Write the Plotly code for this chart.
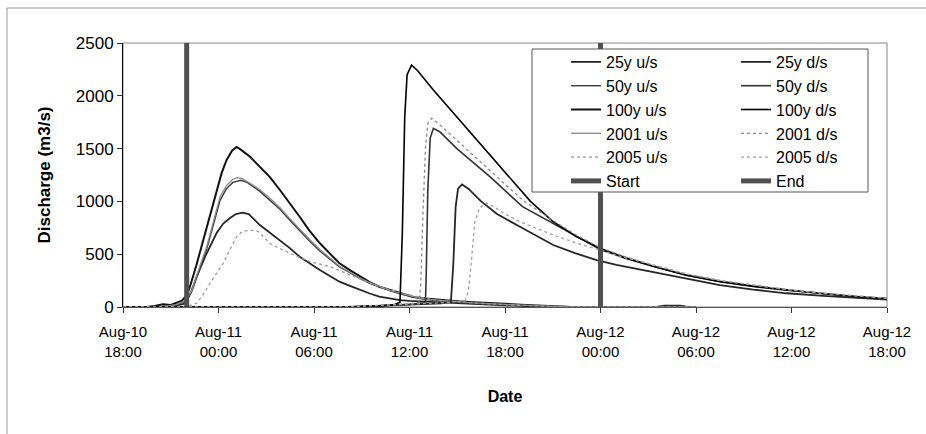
import pandas as pd
import plotly.graph_objects as go

BASE = "2007-08-10 18:00"

# ---- data: hours since Aug-10 18:00 and discharge (m3/s) ----
us25_t = [0, 2.5, 3.3, 3.8, 4.0, 4.3, 4.63, 5.2, 5.88, 6.3, 6.72, 7.1, 7.5, 7.9, 8.6, 9.23, 9.86, 10.5, 11.1, 11.75,
          12.37, 13.0, 13.6, 14.3, 14.9, 15.5, 16.1, 16.8, 17.4, 18, 19, 20, 21, 22, 23, 24, 25, 26, 27, 33.5, 34, 35, 35.5, 36]
us25_q = [0, 3, 12, 30, 55, 150, 287, 490, 700, 790, 843, 880, 893, 880, 776, 705, 634, 555, 476, 410,
          350, 293, 240, 198, 161, 128, 98, 80, 66, 58, 50, 42, 35, 28, 22, 16, 10, 5, 0, 0, 12, 12, 0, 0]

us50_t = [0, 2.5, 3.3, 3.8, 4.0, 4.3, 4.7, 5.26, 5.7, 6.1, 6.5, 6.9, 7.4, 7.8, 8.6, 9.23, 9.86, 10.5, 11.1, 11.75,
          12.37, 13.0, 13.6, 14.3, 14.9, 15.5, 16.1, 16.8, 17.4, 18, 18.5, 19, 20, 21, 22, 23, 24, 25, 26, 27, 28, 36]
us50_q = [0, 5, 18, 45, 75, 140, 310, 550, 790, 1010, 1120, 1180, 1200, 1180, 1095, 1010, 925, 820, 720, 620,
          530, 450, 380, 320, 268, 225, 188, 152, 125, 100, 85, 70, 55, 45, 36, 28, 20, 14, 8, 3, 0, 0]

us100_t = [0, 1.5, 2.0, 2.5, 3.0, 3.3, 3.7, 4.0, 4.2, 4.6, 5.04, 5.5, 5.88, 6.2, 6.51, 6.85, 7.14, 7.4, 8.0, 8.6,
           9.23, 9.86, 10.5, 11.1, 11.7, 12.37, 13.0, 13.6, 14.3, 14.9, 15.5, 16.1, 16.7, 17.2, 17.7, 18.2, 19, 20,
           21, 22, 23, 24, 25, 26, 27, 28, 30, 36]
us100_q = [0, 0, 10, 25, 20, 35, 60, 110, 190, 390, 634, 880, 1108, 1270, 1392, 1480, 1515, 1490, 1420, 1330,
           1230, 1108, 980, 855, 725, 603, 505, 414, 345, 287, 235, 192, 165, 145, 120, 98, 80, 65,
           55, 45, 35, 28, 22, 15, 8, 3, 0, 0]

us2001_t = [0, 2.5, 3.3, 3.8, 4.0, 4.3, 4.7, 5.26, 5.7, 6.1, 6.5, 6.9, 7.2, 7.5, 8.0, 8.6, 9.23, 9.86, 10.5, 11.1,
            11.75, 12.37, 13.0, 13.6, 14.3, 14.9, 15.5, 16.1, 16.8, 17.4, 18, 18.5, 19, 20, 21, 22, 23, 24, 25, 26,
            27, 28, 36]
us2001_q = [0, 5, 20, 50, 80, 150, 330, 571, 820, 1045, 1150, 1210, 1225, 1215, 1170, 1110, 1030, 940, 835, 735,
            635, 545, 460, 385, 325, 272, 230, 192, 155, 130, 105, 90, 75, 60, 50, 40, 30, 25, 18, 10,
            5, 0, 0]

us2005_t = [0, 3.5, 4.0, 4.63, 5.0, 5.46, 5.9, 6.3, 6.7, 7.14, 7.5, 8.0, 8.5, 9.23, 9.9, 10.5, 11.1, 11.75, 12.4,
            13.0, 13.6, 14.26, 14.9, 15.5, 16.1, 16.8, 17.4, 18, 18.6, 19, 20, 21, 22, 23, 24, 25, 26, 27, 28, 36]
us2005_q = [0, 0, 5, 35, 110, 224, 320, 414, 540, 666, 715, 729, 715, 603, 550, 508, 470, 429, 405,
            382, 345, 303, 265, 224, 190, 161, 135, 114, 95, 80, 60, 48, 38, 30, 22, 15, 8, 3, 0, 0]

ds25_t = [0, 14, 16, 18, 20, 20.6, 20.75, 20.9, 21.05, 21.3, 21.7, 22.5, 23.5, 24.94, 26, 27.03, 28.4, 29.76, 31,
          33.3, 35.4, 37.5, 39.6, 41.7, 44, 46, 47.8, 48]
ds25_q = [0, 0, 10, 20, 35, 50, 400, 950, 1120, 1160, 1120, 1000, 880, 760, 670, 587, 510, 445, 400,
          334, 270, 208, 165, 130, 105, 88, 73, 70]

ds50_t = [0, 14, 16, 18, 19.0, 19.05, 19.15, 19.3, 19.5, 19.9, 20.96, 23.05, 25.1, 27, 28.5, 30, 31.5, 33.3, 35.4,
          37.5, 39.6, 41.7, 44, 46, 48]
ds50_q = [0, 0, 12, 25, 40, 300, 1100, 1600, 1692, 1660, 1502, 1234, 950, 790, 665, 545, 465, 385, 300,
          243, 198, 160, 125, 100, 78]

ds100_t = [0, 14, 16, 17, 17.4, 17.55, 17.7, 17.85, 18.13, 18.5, 19.5, 20.96, 22.6, 24.1, 25.6, 27, 28.5, 30, 31.5,
           33.3, 35.4, 37.5, 39.6, 41.7, 44, 46, 47.8, 48]
ds100_q = [0, 0, 10, 20, 45, 700, 1800, 2200, 2290, 2240, 2055, 1802, 1518, 1260, 1000, 810, 665, 555, 470,
           385, 300, 240, 195, 160, 125, 100, 82, 80]

ds2001_t = [0, 14, 16, 18, 18.6, 18.7, 18.85, 19.0, 19.15, 19.4, 19.8, 20.96, 23.05, 25.1, 27, 28.5, 30, 31.5,
            33.3, 35.4, 37.5, 39.6, 41.7, 44, 46, 48]
ds2001_q = [0, 0, 15, 30, 45, 200, 900, 1500, 1740, 1787, 1740, 1581, 1297, 1013, 820, 680, 560, 480,
            395, 310, 250, 205, 165, 130, 105, 82]

ds2005_t = [0, 14, 16, 18, 20, 21.5, 21.7, 21.9, 22.1, 22.4, 22.84, 23.3, 24, 24.94, 26, 27.03, 28.4, 29.76, 31,
            33.3, 35.4, 37.5, 39.6, 41.7, 44, 46, 48]
ds2005_q = [0, 0, 15, 30, 40, 60, 150, 450, 800, 940, 985, 950, 880, 808, 745, 682, 610, 545, 490,
            400, 315, 252, 205, 165, 130, 105, 82]

start_time = "2007-08-10 22:00"
end_time = "2007-08-12 00:00"
marker_q = [0, 2500]

x_range = ["2007-08-10 18:00", "2007-08-12 18:00"]
tick_times = ["2007-08-10 18:00", "2007-08-11 00:00", "2007-08-11 06:00", "2007-08-11 12:00",
              "2007-08-11 18:00", "2007-08-12 00:00", "2007-08-12 06:00", "2007-08-12 12:00",
              "2007-08-12 18:00"]
tick_labels = ["Aug-10<br>18:00", "Aug-11<br>00:00", "Aug-11<br>06:00", "Aug-11<br>12:00",
               "Aug-11<br>18:00", "Aug-12<br>00:00", "Aug-12<br>06:00", "Aug-12<br>12:00",
               "Aug-12<br>18:00"]
y_ticks = [0, 500, 1000, 1500, 2000, 2500]

FONT = "Liberation Sans, Arial, sans-serif"
base = pd.Timestamp(BASE)


def to_time(hours):
    return base + pd.to_timedelta(hours, unit="h")


series = [
    ("25y u/s", us25_t, us25_q, "#262626", 1.8, "solid", "legend"),
    ("50y u/s", us50_t, us50_q, "#3a3a3a", 1.4, "solid", "legend"),
    ("100y u/s", us100_t, us100_q, "#111111", 2.0, "solid", "legend"),
    ("2001 u/s", us2001_t, us2001_q, "#8a8a8a", 1.3, "solid", "legend"),
    ("2005 u/s", us2005_t, us2005_q, "#9a9a9a", 1.3, "dot", "legend"),
    ("25y d/s", ds25_t, ds25_q, "#262626", 1.8, "solid", "legend2"),
    ("50y d/s", ds50_t, ds50_q, "#333333", 1.6, "solid", "legend2"),
    ("100y d/s", ds100_t, ds100_q, "#000000", 1.6, "solid", "legend2"),
    ("2001 d/s", ds2001_t, ds2001_q, "#8a8a8a", 1.3, "dot", "legend2"),
    ("2005 d/s", ds2005_t, ds2005_q, "#a0a0a0", 1.3, "dot", "legend2"),
]

fig = go.Figure()
for name, t, q, col, w, dash, lg in series:
    fig.add_trace(go.Scatter(x=to_time(t), y=q, mode="lines", name=name, legend=lg,
                             line=dict(color=col, width=w, dash=dash)))

fig.add_trace(go.Scatter(x=[start_time, start_time], y=marker_q, mode="lines", name="Start",
                         legend="legend", line=dict(color="#505050", width=5)))
fig.add_trace(go.Scatter(x=[end_time, end_time], y=marker_q, mode="lines", name="End",
                         legend="legend2", line=dict(color="#505050", width=5)))

# pixel geometry of plot area
L, R, T, B = 123, 887, 43, 307
W, H = 926, 434


def px(x):
    return (x - L) / (R - L)


def py(y):
    return (B - y) / (B - T)


fig.update_layout(
    width=W, height=H,
    margin=dict(l=L, r=W - R, t=T, b=H - B, pad=0),
    paper_bgcolor="white", plot_bgcolor="white",
    font=dict(family=FONT, size=16, color="black"),
    showlegend=True,
    legend=dict(x=px(566), y=py(45), xanchor="left", yanchor="top", bgcolor="rgba(0,0,0,0)",
                borderwidth=0, font=dict(size=16), tracegroupgap=0),
    legend2=dict(x=px(736), y=py(45), xanchor="left", yanchor="top", bgcolor="rgba(0,0,0,0)",
                 borderwidth=0, font=dict(size=16), tracegroupgap=0),
    xaxis=dict(type="date", range=x_range, tickvals=tick_times, ticktext=tick_labels,
               ticks="outside", ticklen=5, tickcolor="#333", showgrid=False, zeroline=False,
               showline=True, linecolor="#555", linewidth=1, tickfont=dict(size=15),
               ticklabelstandoff=6,
               title=dict(text="<b>Date</b>", font=dict(size=16), standoff=32)),
    yaxis=dict(range=[0, 2500], tickvals=y_ticks, ticks="outside", ticklen=5, tickcolor="#333",
               showgrid=False, zeroline=False, showline=True, linecolor="black", linewidth=1,
               tickfont=dict(size=17),
               title=dict(text="<b>Discharge (m3/s)</b>", font=dict(size=17), standoff=20)),
    shapes=[
        dict(type="rect", xref="paper", yref="paper", x0=0, x1=1, y0=0, y1=1,
             line=dict(color="#888", width=1), layer="below"),
        dict(type="rect", xref="paper", yref="paper", x0=px(532), x1=px(868), y0=py(192), y1=py(49),
             line=dict(color="#555", width=1), fillcolor="white", layer="above"),
        dict(type="rect", xref="paper", yref="paper", x0=px(7), x1=px(960), y0=py(470), y1=py(8),
             line=dict(color="#999", width=1), layer="below"),
    ],
)

fig.write_html("out.html")
